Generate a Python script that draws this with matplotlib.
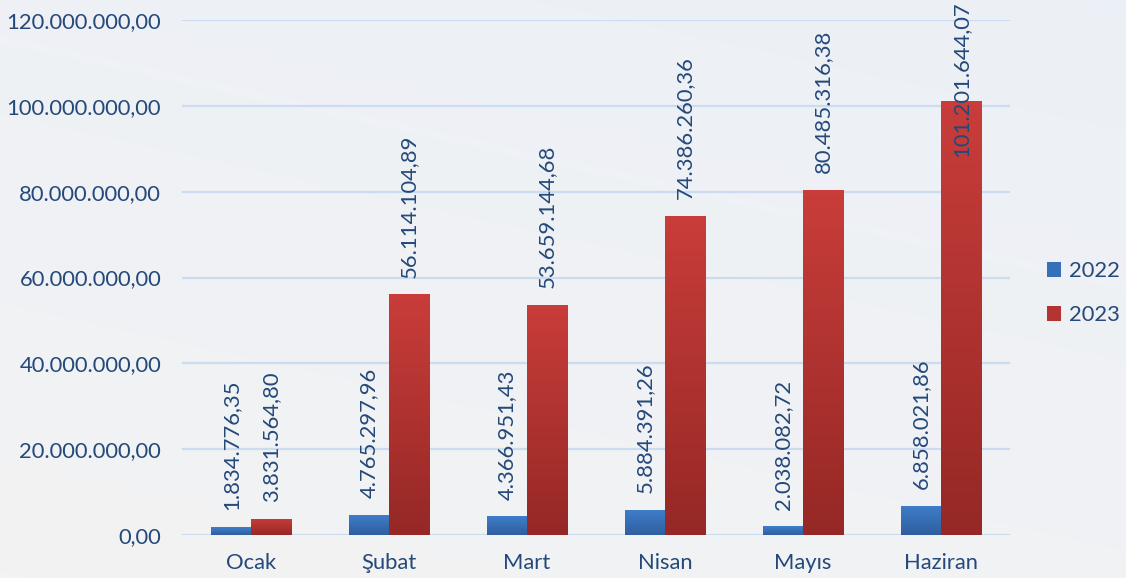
import numpy as np
import matplotlib
matplotlib.use("Agg")
import matplotlib.pyplot as plt
from matplotlib.patches import Patch
from matplotlib.colors import LinearSegmentedColormap
import matplotlib.transforms as mtransforms

plt.rcParams['font.family'] = ['Lato', 'DejaVu Sans']

months = ["Ocak", "Şubat", "Mart", "Nisan", "Mayıs", "Haziran"]
v2022 = [1834776.35, 4765297.96, 4366951.43, 5884391.26, 2038082.72, 6858021.86]
v2023 = [3831564.80, 56114104.89, 53659144.68, 74386260.36, 80485316.38, 101201644.07]
series_names = ["2022", "2023"]
yticks = [0, 20e6, 40e6, 60e6, 80e6, 100e6, 120e6]

TXT = "#24497A"
FS = 15.8

def tr_fmt(v):
    s = f"{v:,.2f}"
    return s.replace(",", "X").replace(".", ",").replace("X", ".")

W, H = 1126, 578
fig = plt.figure(figsize=(W / 100, H / 100), dpi=100)

# background gradient
bg = fig.add_axes([0, 0, 1, 1], zorder=-10)
bg.axis("off")
yy = np.linspace(0, 1, 200)[:, None]
xx = np.linspace(0, 1, 300)[None, :]
c_top = np.array([0.925, 0.941, 0.965])
c_bot = np.array([0.953, 0.953, 0.953])
t = (0.7 * yy + 0.3 * (1 - xx))
img = c_top[None, None, :] * (1 - t[..., None]) + c_bot[None, None, :] * t[..., None]
bg.imshow(img, aspect="auto", extent=[0, 1, 0, 1], origin="upper")
bg.set_xlim(0, 1); bg.set_ylim(0, 1)

ax = fig.add_axes([182 / W, 43 / H, 828 / W, 515 / H])
ax.set_facecolor("none")
ax.set_ylim(0, 120e6)
ax.set_xlim(-0.5, len(months) - 0.5)
x = np.arange(len(months))
bw = 0.29

blue_cmap = LinearSegmentedColormap.from_list("b", ["#2F5E9E", "#3F7ECB"])
red_cmap = LinearSegmentedColormap.from_list("r", ["#952825", "#C93D3A"])

def grad_bars(xs, vals, cmap):
    bars = ax.bar(xs, vals, width=bw, color="none", edgecolor="none", zorder=3)
    grad = np.linspace(0, 1, 256)[:, None]
    for b in bars:
        x0, w, h = b.get_x(), b.get_width(), b.get_height()
        im = ax.imshow(grad, extent=[x0, x0 + w, 0, h], origin="lower", cmap=cmap,
                       aspect="auto", zorder=3, interpolation="bicubic")
        im.set_clip_path(b)
    return bars

grad_bars(x - bw / 2, v2022, blue_cmap)
grad_bars(x + bw / 2, v2023, red_cmap)
ax.set_aspect("auto")
ax.set_xlim(-0.5, len(months) - 0.5)
ax.set_ylim(0, 120e6)

# value labels
fig.canvas.draw()
renderer = fig.canvas.get_renderer()
for xs, vals in ((x - bw / 2, v2022), (x + bw / 2, v2023)):
    for xi, v in zip(xs, vals):
        txt = ax.annotate(tr_fmt(v), (xi, v), xytext=(0, 12), textcoords="offset points",
                          rotation=90, ha="center", va="bottom", color=TXT, fontsize=FS, zorder=5)
        bb = txt.get_window_extent(renderer)
        if bb.y1 > H - 1:
            txt.remove()
            tr = mtransforms.blended_transform_factory(ax.transData, fig.transFigure)
            ax.text(xi, 0.997, tr_fmt(v), transform=tr, rotation=90, ha="center", va="top",
                    color=TXT, fontsize=FS, zorder=5)

ax.set_yticks(yticks)
ax.set_yticklabels([tr_fmt(v) for v in yticks])
ax.set_xticks(x)
ax.set_xticklabels(months)
ax.tick_params(axis="both", length=0, labelsize=FS, labelcolor=TXT)
ax.tick_params(axis="y", pad=15)
ax.tick_params(axis="x", pad=13)
ax.grid(axis="y", color="#CCDCF0", linewidth=1.6, zorder=0)
ax.set_axisbelow(True)
for s in ax.spines.values():
    s.set_visible(False)

handles = [Patch(facecolor="#3670B8", label="2022"), Patch(facecolor="#B33431", label="2023")]
leg = fig.legend(handles=handles, loc="center left", bbox_to_anchor=(1047 / W, 1 - 293 / H),
                 frameon=False, fontsize=FS, labelcolor=TXT, handlelength=0.65, handleheight=0.65,
                 handletextpad=0.35, labelspacing=1.1, borderpad=0, borderaxespad=0)

fig.savefig("out.png", dpi=100)
